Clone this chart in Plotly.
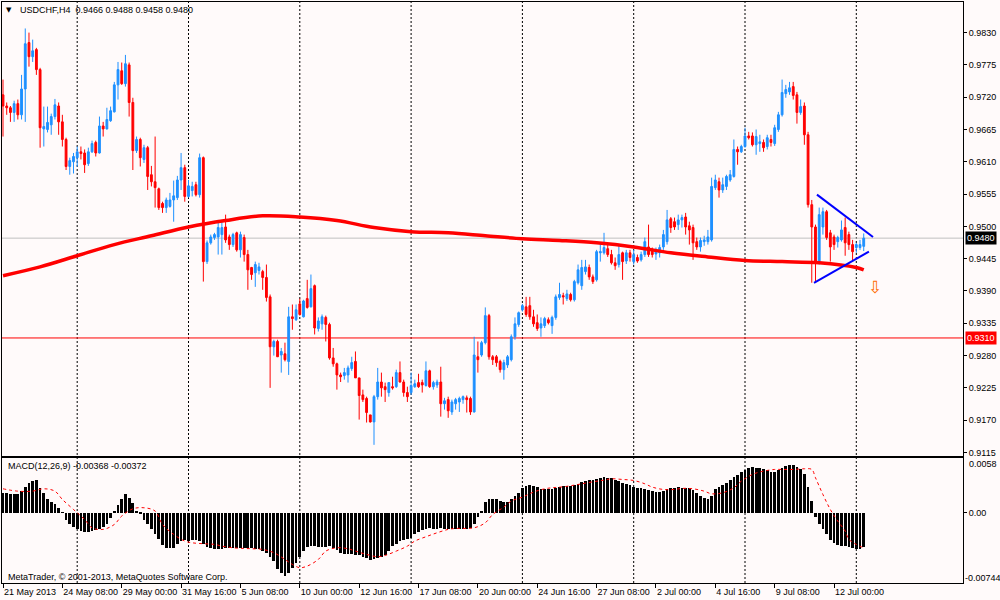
import plotly.graph_objects as go

# USDCHF H4 candles (bar index 0 = 21 May 2013 00:00)
opens = [
    0.9724, 0.9705, 0.9702, 0.9694, 0.9709, 0.9690, 0.9734, 0.9813, 0.9789, 0.9801,
    0.9767, 0.9666, 0.9665, 0.9673, 0.9687, 0.9705, 0.9678, 0.9648, 0.9602, 0.9610,
    0.9617, 0.9627, 0.9625, 0.9607, 0.9627, 0.9643, 0.9625, 0.9671, 0.9666, 0.9680,
    0.9695, 0.9741, 0.9765, 0.9743, 0.9775, 0.9711, 0.9629, 0.9648, 0.9614, 0.9634,
    0.9588, 0.9576, 0.9564, 0.9539, 0.9532, 0.9534, 0.9545, 0.9549, 0.9579, 0.9600,
    0.9551, 0.9561, 0.9571, 0.9554, 0.9617, 0.9440, 0.9472, 0.9481, 0.9482, 0.9486,
    0.9499, 0.9482, 0.9469, 0.9489, 0.9460, 0.9481, 0.9452, 0.9430, 0.9421, 0.9425,
    0.9423, 0.9413, 0.9380, 0.9295, 0.9304, 0.9281, 0.9283, 0.9270, 0.9346, 0.9341,
    0.9368, 0.9346, 0.9377, 0.9363, 0.9399, 0.9326, 0.9334, 0.9345, 0.9333, 0.9276,
    0.9266, 0.9247, 0.9246, 0.9247, 0.9258, 0.9270, 0.9242, 0.9213, 0.9207, 0.9179,
    0.9167, 0.9210, 0.9235, 0.9227, 0.9217, 0.9227, 0.9227, 0.9251, 0.9235, 0.9217,
    0.9217, 0.9227, 0.9234, 0.9234, 0.9229, 0.9254, 0.9227, 0.9230, 0.9235, 0.9198,
    0.9205, 0.9184, 0.9198, 0.9201, 0.9205, 0.9208, 0.9207, 0.9184, 0.9278, 0.9281,
    0.9302, 0.9348, 0.9278, 0.9278, 0.9270, 0.9256, 0.9264, 0.9273, 0.9312, 0.9333,
    0.9358, 0.9363, 0.9365, 0.9346, 0.9336, 0.9327, 0.9331, 0.9341, 0.9331, 0.9345,
    0.9379, 0.9382, 0.9377, 0.9384, 0.9375, 0.9404, 0.9399, 0.9423, 0.9430, 0.9414,
    0.9409, 0.9455, 0.9455, 0.9462, 0.9452, 0.9438, 0.9435, 0.9455, 0.9441, 0.9455,
    0.9440, 0.9447, 0.9443, 0.9452, 0.9465, 0.9460, 0.9453, 0.9455, 0.9465, 0.9474,
    0.9513, 0.9508, 0.9503, 0.9511, 0.9516, 0.9501, 0.9498, 0.9474, 0.9465, 0.9474,
    0.9474, 0.9477, 0.9566, 0.9576, 0.9562, 0.9568, 0.9579, 0.9585, 0.9631, 0.9627,
    0.9636, 0.9654, 0.9654, 0.9639, 0.9641, 0.9643, 0.9636, 0.9648, 0.9641, 0.9665,
    0.9690, 0.9726, 0.9729, 0.9738, 0.9724, 0.9694, 0.9705, 0.9656, 0.9537, 0.9499,
    0.9440, 0.9499, 0.9525, 0.9489, 0.9482, 0.9474, 0.9477, 0.9498, 0.9486, 0.9469,
    0.9464, 0.9464, 0.9466,
]
highs = [
    0.9750, 0.9711, 0.9705, 0.9714, 0.9716, 0.9758, 0.9837, 0.9830, 0.9818, 0.9804,
    0.9770, 0.9704, 0.9704, 0.9692, 0.9717, 0.9711, 0.9690, 0.9651, 0.9617, 0.9625,
    0.9636, 0.9636, 0.9631, 0.9634, 0.9646, 0.9646, 0.9687, 0.9678, 0.9702, 0.9704,
    0.9746, 0.9780, 0.9779, 0.9792, 0.9779, 0.9719, 0.9653, 0.9651, 0.9639, 0.9637,
    0.9603, 0.9653, 0.9566, 0.9542, 0.9549, 0.9557, 0.9578, 0.9586, 0.9625, 0.9605,
    0.9579, 0.9576, 0.9576, 0.9624, 0.9619, 0.9476, 0.9486, 0.9489, 0.9511, 0.9510,
    0.9520, 0.9486, 0.9489, 0.9491, 0.9491, 0.9486, 0.9460, 0.9431, 0.9440, 0.9438,
    0.9426, 0.9435, 0.9384, 0.9307, 0.9307, 0.9293, 0.9302, 0.9363, 0.9367, 0.9367,
    0.9377, 0.9375, 0.9409, 0.9418, 0.9401, 0.9345, 0.9350, 0.9348, 0.9336, 0.9293,
    0.9268, 0.9251, 0.9259, 0.9263, 0.9278, 0.9287, 0.9242, 0.9222, 0.9210, 0.9179,
    0.9213, 0.9259, 0.9251, 0.9234, 0.9235, 0.9244, 0.9256, 0.9270, 0.9239, 0.9227,
    0.9251, 0.9239, 0.9249, 0.9239, 0.9270, 0.9256, 0.9237, 0.9239, 0.9261, 0.9208,
    0.9210, 0.9205, 0.9208, 0.9210, 0.9212, 0.9212, 0.9210, 0.9312, 0.9304, 0.9305,
    0.9362, 0.9351, 0.9281, 0.9281, 0.9273, 0.9273, 0.9281, 0.9316, 0.9345, 0.9355,
    0.9368, 0.9380, 0.9380, 0.9358, 0.9350, 0.9345, 0.9346, 0.9345, 0.9348, 0.9384,
    0.9404, 0.9387, 0.9392, 0.9387, 0.9409, 0.9435, 0.9443, 0.9443, 0.9435, 0.9418,
    0.9460, 0.9472, 0.9489, 0.9469, 0.9460, 0.9447, 0.9469, 0.9457, 0.9460, 0.9460,
    0.9460, 0.9452, 0.9457, 0.9481, 0.9503, 0.9464, 0.9464, 0.9469, 0.9494, 0.9528,
    0.9516, 0.9515, 0.9520, 0.9520, 0.9523, 0.9508, 0.9503, 0.9481, 0.9481, 0.9484,
    0.9494, 0.9583, 0.9588, 0.9583, 0.9583, 0.9588, 0.9596, 0.9648, 0.9636, 0.9639,
    0.9668, 0.9661, 0.9660, 0.9665, 0.9656, 0.9648, 0.9656, 0.9656, 0.9673, 0.9695,
    0.9750, 0.9741, 0.9746, 0.9746, 0.9729, 0.9716, 0.9711, 0.9661, 0.9545, 0.9503,
    0.9532, 0.9532, 0.9528, 0.9494, 0.9486, 0.9484, 0.9510, 0.9515, 0.9491, 0.9477,
    0.9472, 0.9477, 0.9488,
]
lows = [
    0.9653, 0.9690, 0.9678, 0.9678, 0.9682, 0.9682, 0.9678, 0.9772, 0.9780, 0.9758,
    0.9634, 0.9636, 0.9660, 0.9656, 0.9682, 0.9656, 0.9636, 0.9596, 0.9588, 0.9590,
    0.9602, 0.9614, 0.9591, 0.9603, 0.9625, 0.9619, 0.9624, 0.9653, 0.9665, 0.9678,
    0.9694, 0.9716, 0.9741, 0.9738, 0.9687, 0.9596, 0.9625, 0.9602, 0.9608, 0.9562,
    0.9568, 0.9532, 0.9528, 0.9523, 0.9523, 0.9532, 0.9508, 0.9545, 0.9562, 0.9542,
    0.9549, 0.9551, 0.9551, 0.9549, 0.9406, 0.9436, 0.9469, 0.9477, 0.9452, 0.9452,
    0.9472, 0.9460, 0.9465, 0.9457, 0.9447, 0.9440, 0.9392, 0.9409, 0.9397, 0.9418,
    0.9392, 0.9372, 0.9225, 0.9280, 0.9278, 0.9251, 0.9270, 0.9247, 0.9324, 0.9339,
    0.9348, 0.9345, 0.9360, 0.9362, 0.9316, 0.9321, 0.9324, 0.9304, 0.9273, 0.9261,
    0.9222, 0.9235, 0.9239, 0.9234, 0.9254, 0.9242, 0.9171, 0.9201, 0.9166, 0.9166,
    0.9128, 0.9205, 0.9210, 0.9201, 0.9210, 0.9222, 0.9225, 0.9234, 0.9210, 0.9201,
    0.9213, 0.9225, 0.9225, 0.9217, 0.9227, 0.9225, 0.9222, 0.9225, 0.9176, 0.9188,
    0.9174, 0.9179, 0.9188, 0.9184, 0.9198, 0.9183, 0.9179, 0.9183, 0.9251, 0.9278,
    0.9299, 0.9273, 0.9264, 0.9261, 0.9251, 0.9239, 0.9259, 0.9270, 0.9307, 0.9329,
    0.9355, 0.9346, 0.9341, 0.9329, 0.9322, 0.9312, 0.9327, 0.9333, 0.9317, 0.9341,
    0.9375, 0.9367, 0.9373, 0.9372, 0.9372, 0.9401, 0.9392, 0.9418, 0.9409, 0.9402,
    0.9406, 0.9440, 0.9452, 0.9448, 0.9435, 0.9426, 0.9430, 0.9409, 0.9436, 0.9440,
    0.9435, 0.9438, 0.9440, 0.9448, 0.9448, 0.9447, 0.9443, 0.9447, 0.9460, 0.9469,
    0.9489, 0.9494, 0.9494, 0.9498, 0.9486, 0.9469, 0.9443, 0.9460, 0.9457, 0.9467,
    0.9469, 0.9474, 0.9562, 0.9549, 0.9557, 0.9562, 0.9576, 0.9583, 0.9605, 0.9625,
    0.9634, 0.9648, 0.9636, 0.9622, 0.9627, 0.9627, 0.9631, 0.9636, 0.9637, 0.9661,
    0.9687, 0.9719, 0.9724, 0.9716, 0.9675, 0.9690, 0.9639, 0.9532, 0.9404, 0.9406,
    0.9435, 0.9486, 0.9477, 0.9440, 0.9460, 0.9464, 0.9474, 0.9450, 0.9460, 0.9440,
    0.9455, 0.9460, 0.9458,
]
closes = [
    0.9705, 0.9702, 0.9694, 0.9709, 0.9690, 0.9734, 0.9811, 0.9789, 0.9799, 0.9767,
    0.9668, 0.9670, 0.9677, 0.9687, 0.9707, 0.9678, 0.9648, 0.9602, 0.9612, 0.9619,
    0.9627, 0.9624, 0.9605, 0.9627, 0.9641, 0.9625, 0.9671, 0.9666, 0.9682, 0.9697,
    0.9741, 0.9767, 0.9743, 0.9777, 0.9711, 0.9629, 0.9648, 0.9617, 0.9634, 0.9585,
    0.9576, 0.9566, 0.9532, 0.9532, 0.9545, 0.9545, 0.9552, 0.9579, 0.9600, 0.9551,
    0.9569, 0.9568, 0.9554, 0.9617, 0.9440, 0.9472, 0.9482, 0.9486, 0.9498, 0.9498,
    0.9477, 0.9469, 0.9486, 0.9460, 0.9486, 0.9452, 0.9426, 0.9418, 0.9435, 0.9431,
    0.9413, 0.9379, 0.9295, 0.9304, 0.9278, 0.9287, 0.9273, 0.9346, 0.9343, 0.9358,
    0.9350, 0.9373, 0.9362, 0.9394, 0.9327, 0.9339, 0.9346, 0.9333, 0.9276, 0.9266,
    0.9247, 0.9244, 0.9251, 0.9259, 0.9268, 0.9242, 0.9212, 0.9205, 0.9183, 0.9167,
    0.9210, 0.9235, 0.9225, 0.9222, 0.9234, 0.9225, 0.9251, 0.9235, 0.9217, 0.9210,
    0.9229, 0.9232, 0.9227, 0.9230, 0.9254, 0.9227, 0.9234, 0.9235, 0.9198, 0.9203,
    0.9186, 0.9201, 0.9205, 0.9207, 0.9210, 0.9205, 0.9184, 0.9281, 0.9273, 0.9302,
    0.9348, 0.9278, 0.9273, 0.9268, 0.9256, 0.9268, 0.9278, 0.9312, 0.9334, 0.9353,
    0.9365, 0.9350, 0.9346, 0.9334, 0.9326, 0.9334, 0.9343, 0.9336, 0.9345, 0.9380,
    0.9384, 0.9380, 0.9385, 0.9375, 0.9406, 0.9426, 0.9430, 0.9431, 0.9414, 0.9406,
    0.9457, 0.9457, 0.9464, 0.9452, 0.9438, 0.9433, 0.9452, 0.9440, 0.9455, 0.9447,
    0.9452, 0.9441, 0.9452, 0.9474, 0.9452, 0.9452, 0.9460, 0.9464, 0.9486, 0.9511,
    0.9498, 0.9499, 0.9511, 0.9515, 0.9499, 0.9494, 0.9472, 0.9465, 0.9476, 0.9477,
    0.9482, 0.9568, 0.9579, 0.9562, 0.9571, 0.9585, 0.9588, 0.9631, 0.9627, 0.9636,
    0.9654, 0.9651, 0.9639, 0.9653, 0.9644, 0.9634, 0.9651, 0.9643, 0.9668, 0.9690,
    0.9728, 0.9733, 0.9736, 0.9723, 0.9694, 0.9704, 0.9656, 0.9537, 0.9499, 0.9440,
    0.9520, 0.9525, 0.9481, 0.9465, 0.9469, 0.9481, 0.9494, 0.9472, 0.9469, 0.9457,
    0.9469, 0.9469, 0.9480,
]
bars = list(range(len(closes)))

# thick red moving average, sampled every 10 bars
ma_bars = [0, 10, 20, 30, 40, 50, 60, 70, 80, 90, 100, 110, 120, 130, 140, 150,
           160, 170, 180, 190, 200, 210, 220, 230, 232]
ma_values = [0.9416, 0.9431, 0.9450, 0.9469, 0.9484, 0.9499, 0.9510, 0.9518, 0.9516,
             0.9510, 0.9498, 0.9491, 0.9489, 0.9484, 0.9479, 0.9476, 0.9472, 0.9465,
             0.9455, 0.9448, 0.9442, 0.9440, 0.9438, 0.9430, 0.9426]

# MACD(12,26,9) main histogram, one value per bar
macd = [
    0.00205, 0.00205, 0.00201, 0.00201, 0.00194, 0.00230, 0.00275, 0.00317, 0.00335, 0.00342,
    0.00265, 0.00212, 0.00141, 0.00116, 0.00089, 0.00053, 0.00007, -0.00078, -0.00123, -0.00148,
    -0.00176, -0.00198, -0.00205, -0.00205, -0.00198, -0.00187, -0.00176, -0.00152, -0.00123, -0.00053,
    0.00018, 0.00078, 0.00141, 0.00194, 0.00159, 0.00099, 0.00018, -0.00007, -0.00078, -0.00123,
    -0.00176, -0.00230, -0.00283, -0.00346, -0.00370, -0.00370, -0.00370, -0.00335, -0.00299, -0.00293,
    -0.00299, -0.00293, -0.00290, -0.00299, -0.00335, -0.00364, -0.00377, -0.00381, -0.00381, -0.00381,
    -0.00377, -0.00377, -0.00374, -0.00370, -0.00370, -0.00370, -0.00374, -0.00377, -0.00381, -0.00388,
    -0.00402, -0.00424, -0.00466, -0.00511, -0.00593, -0.00642, -0.00671, -0.00635, -0.00582, -0.00529,
    -0.00466, -0.00406, -0.00360, -0.00353, -0.00353, -0.00360, -0.00364, -0.00364, -0.00353, -0.00370,
    -0.00399, -0.00424, -0.00434, -0.00441, -0.00441, -0.00444, -0.00451, -0.00466, -0.00484, -0.00504,
    -0.00494, -0.00477, -0.00466, -0.00451, -0.00406, -0.00353, -0.00328, -0.00299, -0.00290, -0.00283,
    -0.00265, -0.00230, -0.00205, -0.00187, -0.00176, -0.00166, -0.00170, -0.00170, -0.00166, -0.00169,
    -0.00176, -0.00176, -0.00176, -0.00176, -0.00173, -0.00169, -0.00166, -0.00123, -0.00042, 0.00018,
    0.00113, 0.00148, 0.00148, 0.00141, 0.00127, 0.00113, 0.00113, 0.00148, 0.00173, 0.00212,
    0.00257, 0.00279, 0.00290, 0.00283, 0.00268, 0.00254, 0.00254, 0.00247, 0.00247, 0.00261,
    0.00275, 0.00283, 0.00283, 0.00283, 0.00299, 0.00307, 0.00325, 0.00339, 0.00350, 0.00346,
    0.00353, 0.00367, 0.00377, 0.00370, 0.00364, 0.00346, 0.00332, 0.00317, 0.00307, 0.00297,
    0.00275, 0.00261, 0.00257, 0.00247, 0.00236, 0.00230, 0.00223, 0.00223, 0.00232, 0.00247,
    0.00257, 0.00265, 0.00272, 0.00265, 0.00265, 0.00257, 0.00240, 0.00208, 0.00173, 0.00156,
    0.00141, 0.00180, 0.00247, 0.00268, 0.00290, 0.00314, 0.00350, 0.00377, 0.00402, 0.00427,
    0.00448, 0.00473, 0.00484, 0.00477, 0.00477, 0.00462, 0.00448, 0.00437, 0.00434, 0.00448,
    0.00469, 0.00491, 0.00504, 0.00504, 0.00480, 0.00462, 0.00413, 0.00272, 0.00123, -0.00046,
    -0.00123, -0.00173, -0.00223, -0.00286, -0.00325, -0.00342, -0.00353, -0.00353, -0.00364, -0.00377,
    -0.00388, -0.00388, -0.00368,
]

# MACD signal line (red dotted), sampled
signal_bars = [0, 4, 8, 11, 14, 16, 19, 22, 24, 27, 30, 32, 35, 38, 41, 43, 46, 49, 51, 54,
               57, 59, 62, 65, 67, 70, 73, 76, 78, 80, 82, 85, 87, 90, 93, 95, 98, 101, 103, 106,
               109, 111, 114, 117, 120, 122, 127, 130, 132, 135, 137, 140, 143, 146, 148, 151, 154,
               156, 159, 162, 164, 167, 170, 173, 175, 178, 181, 183, 186, 189, 191, 194, 197, 199,
               202, 205, 208, 210, 213, 216, 218, 219, 221, 223, 225, 227, 228, 230, 232]
signal = [0.00254, 0.00229, 0.00229, 0.00254, 0.00229, 0.00141, 0.00035, -0.00071, -0.00159, -0.00176,
          -0.00124, -0.00035, 0.00042, 0.00053, 0.00018, -0.00124, -0.00229, -0.00300, -0.00318, -0.00328,
          -0.00335, -0.00353, -0.00371, -0.00378, -0.00381, -0.00388, -0.00423, -0.00494, -0.00547, -0.00582,
          -0.00565, -0.00494, -0.00406, -0.00371, -0.00381, -0.00406, -0.00441, -0.00466, -0.00452, -0.00406,
          -0.00353, -0.00300, -0.00254, -0.00212, -0.00176, -0.00166, -0.00159, -0.00106, -0.00018, 0.00060,
          0.00124, 0.00166, 0.00219, 0.00254, 0.00265, 0.00275, 0.00293, 0.00307, 0.00328, 0.00346,
          0.00360, 0.00353, 0.00342, 0.00307, 0.00272, 0.00247, 0.00247, 0.00258, 0.00254, 0.00229,
          0.00201, 0.00212, 0.00265, 0.00335, 0.00406, 0.00441, 0.00459, 0.00459, 0.00459, 0.00466,
          0.00459, 0.00371, 0.00194, 0.00035, -0.00088, -0.00194, -0.00282, -0.00335, -0.00372]

# triangle drawn by hand on the chart
tri_upper_bars = [219.4, 234.5]
tri_upper_px = [0.9554, 0.9482]
tri_lower_bars = [218.6, 233.4]
tri_lower_px = [0.9404, 0.9457]

price_ticks = [0.9830, 0.9775, 0.9720, 0.9665, 0.9610, 0.9555, 0.9500, 0.9445,
               0.9390, 0.9335, 0.9280, 0.9225, 0.9170, 0.9115]
time_bars = [0, 16, 32, 48, 64, 80, 96, 112, 128, 144, 160, 176, 192, 208, 224]
time_labels = ["21 May 2013", "24 May 08:00", "29 May 00:00", "31 May 16:00", "5 Jun 08:00",
               "10 Jun 00:00", "12 Jun 16:00", "17 Jun 08:00", "20 Jun 00:00", "24 Jun 16:00",
               "27 Jun 08:00", "2 Jul 00:00", "4 Jul 16:00", "9 Jul 08:00", "12 Jul 00:00"]
grid_bars = [20, 50, 80, 110, 140, 170, 200, 230]
bid = 0.9480
level = 0.9310

BLUE = "#1E90FF"
RED = "#FF0000"
BG = "#FFFAFA"
FONT = "Liberation Sans"

fig = go.Figure()

fig.add_trace(go.Candlestick(
    x=bars, open=opens, high=highs, low=lows, close=closes,
    increasing=dict(line=dict(color=BLUE, width=1), fillcolor=BLUE),
    decreasing=dict(line=dict(color=RED, width=1), fillcolor=RED),
    whiskerwidth=0, xaxis="x", yaxis="y", hoverinfo="skip",
))
fig.add_trace(go.Scatter(x=ma_bars, y=ma_values, mode="lines",
                         line=dict(color=RED, width=3.5, shape="spline"),
                         xaxis="x", yaxis="y", hoverinfo="skip"))
fig.add_trace(go.Scatter(x=tri_upper_bars, y=tri_upper_px, mode="lines",
                         line=dict(color="#0000FF", width=2), xaxis="x", yaxis="y"))
fig.add_trace(go.Scatter(x=tri_lower_bars, y=tri_lower_px, mode="lines",
                         line=dict(color="#0000FF", width=2), xaxis="x", yaxis="y"))

fig.add_trace(go.Bar(x=bars, y=macd, marker_color="black", marker_line_width=0,
                     width=0.74, xaxis="x2", yaxis="y2", hoverinfo="skip"))
fig.add_trace(go.Scatter(x=signal_bars, y=signal, mode="lines",
                         line=dict(color=RED, width=1, dash="dot", shape="spline"),
                         xaxis="x2", yaxis="y2", hoverinfo="skip"))

# vertical dashed grid through both panes
shapes = []
for b in grid_bars:
    shapes.append(dict(type="line", xref="x", yref="paper", x0=b, x1=b, y0=0, y1=1,
                       line=dict(color="black", width=1, dash="2px,2px"), layer="below"))
shapes.append(dict(type="line", xref="x domain", yref="y", x0=0, x1=1, y0=bid, y1=bid,
                   line=dict(color="#C0C0C0", width=1), layer="below"))
shapes.append(dict(type="line", xref="x domain", yref="y", x0=0, x1=1, y0=level, y1=level,
                   line=dict(color=RED, width=1), layer="below"))

small = dict(family=FONT, size=9, color="black")
annotations = [
    dict(text="▼", x=0.0078, y=0.986, xref="paper", yref="paper", showarrow=False,
         xanchor="center", yanchor="middle", font=dict(family="DejaVu Sans", size=7, color="black")),
    dict(text="USDCHF,H4  0.9466 0.9488 0.9458 0.9480", x=0.0165, y=0.986,
         xref="paper", yref="paper", showarrow=False, xanchor="left", yanchor="middle", font=small),
    dict(text="MACD(12,26,9) -0.00368 -0.00372", x=0.004, y=0.2014,
         xref="paper", yref="paper", showarrow=False, xanchor="left", yanchor="middle", font=small),
    dict(text="MetaTrader, © 2001-2013, MetaQuotes Software Corp.", x=0.004, y=0.0103,
         xref="paper", yref="paper", showarrow=False, xanchor="left", yanchor="middle", font=small),
    dict(text="0.9480", x=1.002, y=bid, xref="paper", yref="y", showarrow=False,
         xanchor="left", yanchor="middle", bgcolor="black", borderpad=1,
         font=dict(family=FONT, size=9, color="white")),
    dict(text="0.9310", x=1.002, y=level, xref="paper", yref="y", showarrow=False,
         xanchor="left", yanchor="middle", bgcolor=RED, borderpad=1,
         font=dict(family=FONT, size=9, color="white")),
    dict(text="0.0058", x=1.004, y=0.2048, xref="paper", yref="paper", showarrow=False,
         xanchor="left", yanchor="middle", font=small),
    dict(text="-0.00744", x=1.0005, y=0.0086, xref="paper", yref="paper", showarrow=False,
         xanchor="left", yanchor="middle", font=small),
    dict(text="⇩", x=235, y=0.9396, xref="x", yref="y", showarrow=False,
         font=dict(family="DejaVu Sans", size=17, color="#FF6A00")),
]

frame = dict(showline=True, mirror=True, linecolor="black", linewidth=1,
             showgrid=False, zeroline=False)

fig.update_layout(
    width=1000, height=600,
    margin=dict(l=2, r=37, t=2, b=17),
    paper_bgcolor=BG, plot_bgcolor=BG,
    showlegend=False, bargap=0,
    font=small,
    shapes=shapes, annotations=annotations,
    xaxis=dict(domain=[0, 1], anchor="y", range=[-0.27, 258.76], showticklabels=False,
               ticks="", rangeslider=dict(visible=False), **frame),
    yaxis=dict(domain=[0.2186, 1], anchor="x", range=[0.91090, 0.98821], side="right",
               tickvals=price_ticks, tickformat=".4f", ticks="outside", ticklen=3,
               tickcolor="black", **frame),
    xaxis2=dict(domain=[0, 1], anchor="y2", matches="x", tickvals=time_bars,
                ticktext=time_labels, ticks="outside", ticklen=4, tickcolor="black",
                tickangle=0, ticklabelposition="outside right", **frame),
    yaxis2=dict(domain=[0, 0.2151], anchor="x2", range=[-0.00744, 0.0058], side="right",
                tickvals=[0], ticktext=["0.00"], ticks="outside", ticklen=3,
                tickcolor="black", **frame),
)

# drop the browser's default page margin so the figure sits at the window corner
fig.write_html("out.html", config={"displayModeBar": False},
               post_script="document.body.style.margin='0';")
